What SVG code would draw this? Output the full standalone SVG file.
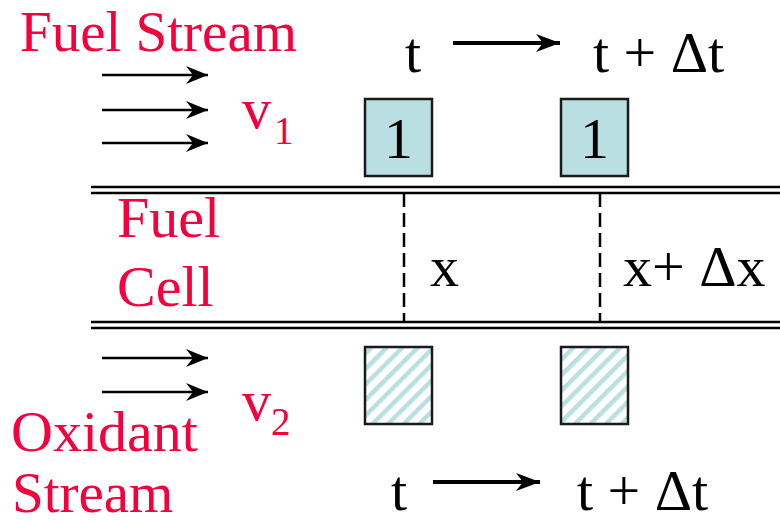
<svg xmlns="http://www.w3.org/2000/svg" width="780" height="525" viewBox="0 0 780 525">
<style>
text{font-family:'Liberation Serif','Times New Roman',serif;font-size:58px}
.red{fill:#f5003c}
.edge{font-size:57px}
.sub{font-size:39px}
.arr{stroke:#000;stroke-width:2.5;fill:none;marker-end:url(#ah)}
.big{stroke:#000;stroke-width:4;fill:none;marker-end:url(#ahb)}
.wall{stroke:#000;stroke-width:2.5}
.dash{stroke:#000;stroke-width:2.5;stroke-dasharray:14 6}
.box{stroke:#1a1a1a;stroke-width:2.5}
</style>
<defs>
<marker id="ah" markerUnits="userSpaceOnUse" markerWidth="26" markerHeight="20" refX="22" refY="10" orient="auto">
<path d="M0,1 L22,10 L0,19 L7,10 Z" fill="#000"/>
</marker>
<marker id="ahb" markerUnits="userSpaceOnUse" markerWidth="28" markerHeight="20" refX="24" refY="10" orient="auto">
<path d="M0,1 L24,10 L0,19 L7,10 Z" fill="#000"/>
</marker>
<pattern id="hatch" patternUnits="userSpaceOnUse" width="11" height="11" patternTransform="rotate(45)">
<rect width="11" height="11" fill="#fff"/>
<rect x="0" y="0" width="4.5" height="11" fill="#b9dfe2"/>
</pattern>
</defs>

<g id="fuel-stream-label"><text class="red edge" x="20" y="51">Fuel Stream</text></g>
<g id="oxidant-stream-label"><text class="red" x="11" y="451">Oxidant</text><text class="red edge" x="12" y="512">Stream</text></g>
<g id="fuel-cell-label"><text class="red" x="117" y="237">Fuel</text><text class="red" x="117" y="306">Cell</text></g>
<g id="v1"><text class="red" x="242" y="128">v</text><text class="red sub" x="274" y="144">1</text></g>
<g id="v2"><text class="red" x="242" y="420">v</text><text class="red sub" x="271" y="435">2</text></g>

<g id="walls">
<line class="wall" x1="91" y1="187" x2="780" y2="187"/>
<line class="wall" x1="91" y1="193" x2="780" y2="193"/>
<line class="wall" x1="91" y1="322" x2="780" y2="322"/>
<line class="wall" x1="91" y1="328" x2="780" y2="328"/>
</g>

<g id="positions">
<line class="dash" x1="404" y1="193" x2="404" y2="322"/>
<line class="dash" x1="600" y1="193" x2="600" y2="322"/>
<text x="430" y="286">x</text>
<text x="623" y="286">x+ Δx</text>
</g>

<g id="fuel-box-t"><rect class="box" x="365" y="99" width="67" height="77" fill="#b9dfe2"/><text x="398.5" y="158" text-anchor="middle">1</text></g>
<g id="fuel-box-tdt"><rect class="box" x="561" y="99" width="67" height="77" fill="#b9dfe2"/><text x="594.5" y="158" text-anchor="middle">1</text></g>
<g id="ox-box-t"><rect class="box" x="365" y="347" width="67" height="77" fill="url(#hatch)"/></g>
<g id="ox-box-tdt"><rect class="box" x="561" y="347" width="67" height="77" fill="url(#hatch)"/></g>

<g id="time-top"><text x="405" y="72">t</text><text x="593" y="72">t + Δt</text></g>
<g id="time-bottom"><text x="391" y="510">t</text><text x="577" y="510">t + Δt</text></g>

<g id="connectors">
<line class="arr" x1="102" y1="75" x2="208" y2="75"/>
<line class="arr" x1="102" y1="110" x2="208" y2="110"/>
<line class="arr" x1="102" y1="143" x2="208" y2="143"/>
<line class="arr" x1="102" y1="358" x2="208" y2="358"/>
<line class="arr" x1="102" y1="392" x2="208" y2="392"/>
<line class="big" x1="453" y1="43" x2="560" y2="43"/>
<line class="big" x1="433" y1="482" x2="540" y2="482"/>
</g>
</svg>
